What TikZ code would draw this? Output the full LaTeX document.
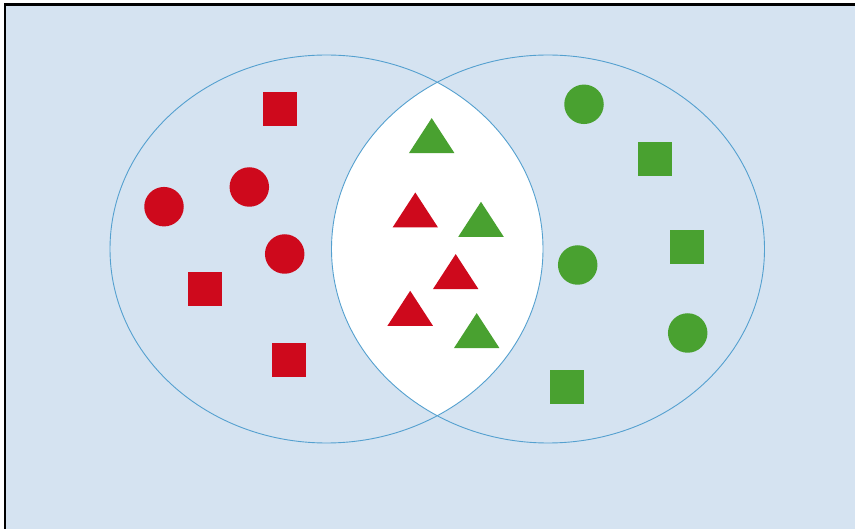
\documentclass[tikz,border=0pt]{standalone}
\usetikzlibrary{shapes}
\definecolor{bgblue}{RGB}{213,227,241}
\definecolor{setblue}{RGB}{84,160,207}
\definecolor{redfill}{RGB}{206,9,28}
\definecolor{greenfill}{RGB}{73,161,48}

\begin{document}
\begin{tikzpicture}[x=1pt, y=-1pt,
    box/.style={rectangle, fill=#1, minimum size=34pt, inner sep=0pt},
    blob/.style={circle, fill=#1, minimum size=39.5pt, inner sep=0pt},
    wedge/.style={isosceles triangle, isosceles triangle stretches, shape border rotate=90,
        fill=#1, minimum width=45.5pt, minimum height=35pt, inner sep=0pt, anchor=lower side},
    set/.style={ellipse, draw=setblue, line width=0.9pt, minimum width=433pt, minimum height=388pt, inner sep=0pt}]
                    \clip (0,0) rectangle (855,529);
                    \fill[bgblue] (5,4.5) rectangle (900,600);

                    % overlap of the two sets
                    \begin{scope}
                        \clip (326.5,249) ellipse [x radius=216.5, y radius=194];
                        \fill[white] (548,249) ellipse [x radius=216.5, y radius=194];
                    \end{scope}

                    \node[set] (leftset) at (326.5,249) {};
                    \node[set] (rightset) at (548,249) {};

                    % red only
                    \node[box=redfill] (rs1) at (279.7,109.3) {};
                    \node[box=redfill] (rs2) at (205.2,288.7) {};
                    \node[box=redfill] (rs3) at (289,360.3) {};
                    \node[blob=redfill] (rc1) at (164,206.7) {};
                    \node[blob=redfill] (rc2) at (249.3,187) {};
                    \node[blob=redfill] (rc3) at (284.7,254) {};

                    % both
                    \node[wedge=greenfill] (gt1) at (431.7,153.3) {};
                    \node[wedge=redfill] (rt1) at (415.3,227.7) {};
                    \node[wedge=greenfill] (gt2) at (481,237) {};
                    \node[wedge=redfill] (rt2) at (455.7,289.3) {};
                    \node[wedge=redfill] (rt3) at (410.2,326) {};
                    \node[wedge=greenfill] (gt3) at (476.7,348.3) {};

                    % green only
                    \node[blob=greenfill] (gc1) at (584,104.3) {};
                    \node[blob=greenfill] (gc2) at (577.7,265) {};
                    \node[blob=greenfill] (gc3) at (687.7,333) {};
                    \node[box=greenfill] (gs1) at (654.8,158.7) {};
                    \node[box=greenfill] (gs2) at (686.5,246.7) {};
                    \node[box=greenfill] (gs3) at (566.7,387.5) {};

                    \draw[line width=2.2pt] (5,4.5) rectangle (900,600);
                \end{tikzpicture}
\end{document}
